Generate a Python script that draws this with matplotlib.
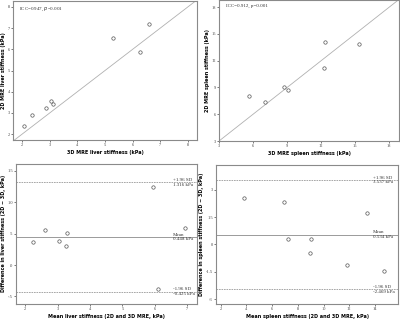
""" Agreement between 2D and 3D MRE stiffness: correlation plots (top)
    and Bland-Altman plots (bottom) for liver and spleen """

import matplotlib
matplotlib.use("Agg")
import matplotlib.pyplot as plt

# Liver: 3D vs 2D stiffness (kPa)
liver_3d = [2.06, 2.35, 2.87, 3.04, 3.12, 5.29, 6.27, 6.60]
liver_2d = [2.39, 2.90, 3.24, 3.54, 3.40, 6.54, 5.89, 7.21]

# Spleen: 3D vs 2D stiffness (kPa)
spleen_3d = [5.65, 7.04, 8.75, 9.05, 12.26, 12.35, 15.33]
spleen_2d = [8.02, 7.38, 9.10, 8.69, 11.13, 14.05, 13.82]

# Bland-Altman liver: mean and difference
liver_mean = [2.23, 2.62, 3.05, 3.26, 3.28, 5.93, 6.11, 6.94]
liver_diff = [0.368, 0.558, 0.389, 0.310, 0.511, 1.235, -0.378, 0.590]
liver_limits = [1.316, 0.448, -0.425]

# Bland-Altman spleen: mean and difference
spleen_mean = [3.79, 6.92, 7.26, 9.02, 8.94, 11.82, 13.37, 14.72]
spleen_diff = [2.55, 2.31, 0.31, 0.31, -0.45, -1.11, 1.72, -1.44]
spleen_limits = [3.537, 0.534, -2.469]

limit_names = ["+1.96 SD", "Mean", "-1.96 SD"]

liver_yticks = [-0.5, 0.0, 0.5, 1.0, 1.5]
liver_yticklabels = ["-.5", ".0", ".5", "1.0", "1.5"]
spleen_yticks = [-3, -1.5, 0, 1.5, 3]
spleen_yticklabels = ["-3", "-1.5", "0", "1.5", "3"]

FRAME = "#8a8a8a"
MARK = "#555555"
LABEL_FONT = dict(fontsize=3.5, fontweight="bold", family="DejaVu Sans")
TEXT_FONT = dict(fontsize=3.6, family="Liberation Serif", color="#333333")

fig = plt.figure(figsize=(4.0, 3.22), dpi=100)


def style_axes(ax):
    for s in ax.spines.values():
        s.set_color(FRAME)
        s.set_linewidth(0.8)
    ax.tick_params(length=1.5, width=0.5, pad=0.8, labelsize=3.2, colors="#444444")
    for lab in ax.get_xticklabels() + ax.get_yticklabels():
        lab.set_family("Liberation Serif")


def scatter(ax, x, y):
    ax.scatter(x, y, s=6, facecolors="white", edgecolors=MARK, linewidths=0.5, zorder=3)


# Top-left: liver correlation
ax1 = fig.add_axes([0.0325, 0.565, 0.46, 0.432])
ax1.axline((0, 0), (1, 1), color="#b0b0b0", linewidth=0.6)
scatter(ax1, liver_3d, liver_2d)
ax1.set_xlim(1.67, 8.33)
ax1.set_ylim(1.72, 8.28)
ax1.set_xticks(range(2, 9))
ax1.set_yticks(range(2, 9))
ax1.set_xlabel("3D MRE liver stiffness (kPa)", labelpad=2, **LABEL_FONT)
ax1.set_ylabel("2D MRE liver stiffness (kPa)", labelpad=1, **LABEL_FONT)
ax1.text(0.03, 0.965, "ICC=0.947, $\\it{p}$=0.001", transform=ax1.transAxes,
         va="top", ha="left", **TEXT_FONT)
style_axes(ax1)

# Top-right: spleen correlation
ax2 = fig.add_axes([0.5475, 0.562, 0.45, 0.438])
ax2.axline((0, 0), (1, 1), color="#b0b0b0", linewidth=0.6)
scatter(ax2, spleen_3d, spleen_2d)
ax2.set_xlim(3, 18.86)
ax2.set_ylim(3, 18.8)
ax2.set_xticks(range(3, 19, 3))
ax2.set_yticks(range(3, 19, 3))
ax2.set_xlabel("3D MRE spleen stiffness (kPa)", labelpad=2, **LABEL_FONT)
ax2.set_ylabel("2D MRE spleen stiffness (kPa)", labelpad=1, **LABEL_FONT)
ax2.text(0.04, 0.975, "ICC=0.912, p=0.001", transform=ax2.transAxes,
         va="top", ha="left", **TEXT_FONT)
style_axes(ax2)


def bland_altman(ax, means, diffs, limits, text_x):
    for i, val in enumerate(limits):
        style = "-" if i == 1 else (0, (2, 1))
        ax.axhline(val, color="#9a9a9a", linewidth=0.7 if i == 1 else 0.6, linestyle=style)
        ax.text(text_x, val, "{}\n{:.3f} kPa".format(limit_names[i], val),
                va="center", ha="left", linespacing=1.15, **TEXT_FONT)
    scatter(ax, means, diffs)


# Bottom-left: liver Bland-Altman
ax3 = fig.add_axes([0.04, 0.056, 0.4525, 0.435])
bland_altman(ax3, liver_mean, liver_diff, liver_limits, 6.55)
ax3.set_xlim(1.72, 7.3)
ax3.set_ylim(-0.62, 1.61)
ax3.set_xticks(range(2, 8))
ax3.set_yticks(liver_yticks)
ax3.set_yticklabels(liver_yticklabels)
ax3.set_xlabel("Mean liver stiffness (2D and 3D MRE, kPa)", labelpad=2, **LABEL_FONT)
ax3.set_ylabel("Difference in liver stiffness (2D \u2212 3D, kPa)", labelpad=1, **LABEL_FONT)
style_axes(ax3)

# Bottom-right: spleen Bland-Altman
ax4 = fig.add_axes([0.54, 0.056, 0.455, 0.432])
bland_altman(ax4, spleen_mean, spleen_diff, spleen_limits, 13.83)
ax4.set_xlim(1.63, 15.79)
ax4.set_ylim(-3.27, 4.36)
ax4.set_xticks(range(2, 15, 2))
ax4.set_yticks(spleen_yticks)
ax4.set_yticklabels(spleen_yticklabels)
ax4.set_xlabel("Mean spleen stiffness (2D and 3D MRE, kPa)", labelpad=2, **LABEL_FONT)
ax4.set_ylabel("Difference in spleen stiffness (2D \u2212 3D, kPa)", labelpad=1, **LABEL_FONT)
style_axes(ax4)

fig.savefig("out.png", dpi=100)
